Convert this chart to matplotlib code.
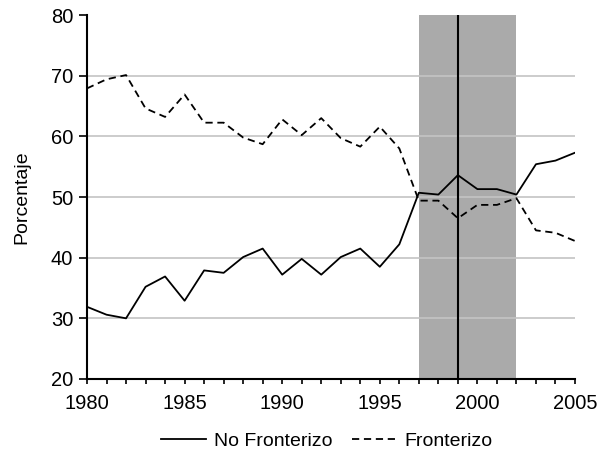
import matplotlib
matplotlib.use("Agg")
import matplotlib.pyplot as plt

years = list(range(1980, 2006))
no_fronterizo = [31.9, 30.6, 30.0, 35.2, 36.9, 32.9, 37.9, 37.5, 40.1, 41.5,
                 37.2, 39.8, 37.2, 40.1, 41.5, 38.5, 42.2, 50.7, 50.4, 53.6,
                 51.3, 51.3, 50.4, 55.4, 56.0, 57.3]
fronterizo = [67.9, 69.4, 70.1, 64.6, 63.2, 66.9, 62.25, 62.25, 59.8, 58.7,
              62.8, 60.2, 63.0, 59.7, 58.3, 61.6, 58.0, 49.4, 49.4, 46.5,
              48.7, 48.7, 49.8, 44.5, 44.1, 42.75]
shade_start, shade_end = 1997, 2002
vline_year = 1999
yticks = [20, 30, 40, 50, 60, 70, 80]
xticks = [1980, 1985, 1990, 1995, 2000, 2005]

plt.rcParams['font.family'] = ['Liberation Sans', 'DejaVu Sans']

fig = plt.figure(figsize=(6.08, 4.63), dpi=100)
ax = fig.add_axes([87/608, 1 - 379/463, (575 - 87)/608, (379 - 15)/463])

ax.axvspan(shade_start, shade_end, color='#AAAAAA', lw=0, zorder=1)
for y in yticks[1:-1]:
    ax.axhline(y, color='#C4C4C4', lw=1.2, zorder=2)
ax.axvline(vline_year, color='black', lw=1.5, zorder=3)

ax.plot(years, no_fronterizo, color='black', lw=1.3, label='No Fronterizo', zorder=4)
ax.plot(years, fronterizo, color='black', lw=1.3, dashes=(4, 2.6), label='Fronterizo', zorder=4)

ax.set_xlim(1980, 2005)
ax.set_ylim(20, 80)
ax.set_yticks(yticks)
ax.set_xticks(xticks)
ax.set_xticks(years, minor=True)
for s in ['top', 'right']:
    ax.spines[s].set_visible(False)
for s in ['left', 'bottom']:
    ax.spines[s].set_linewidth(1.5)
ax.tick_params(axis='y', which='both', direction='out', length=5.5, width=1.2, labelsize=14.5, pad=4.5)
ax.tick_params(axis='x', which='both', direction='out', length=3.5, width=1.2, labelsize=14.5, pad=7)

fig.text(22/608, 1 - 197/463, 'Porcentaje', rotation=90, ha='center', va='center', fontsize=14)

ax.legend(loc='center', bbox_to_anchor=(327/608, 1 - 441/463), bbox_transform=fig.transFigure,
          ncol=2, frameon=False, fontsize=14, handlelength=2.3, columnspacing=1.0,
          handletextpad=0.4, borderpad=0, borderaxespad=0)

fig.savefig('out.png', dpi=100)
